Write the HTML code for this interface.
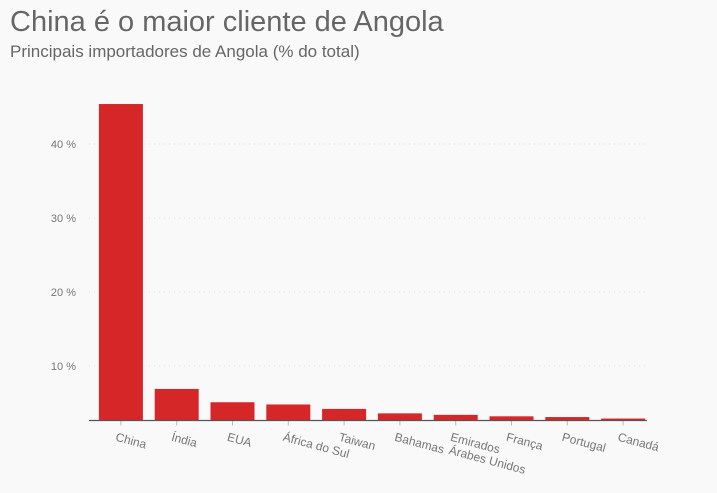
<!DOCTYPE html>
<html><head><meta charset="utf-8"><style>
body{margin:0;background:#f9f9f9;font-family:"Liberation Sans",sans-serif;}
#t{position:absolute;left:10px;top:6px;font-size:29px;color:#666;}
#s{position:absolute;left:10px;top:42px;font-size:17px;color:#666;}
</style></head><body>
<div id="t">China é o maior cliente de Angola</div>
<div id="s">Principais importadores de Angola (% do total)</div>
<svg id="c" width="717" height="493" style="position:absolute;left:0;top:0"></svg>
<script>
const categories=["China","Índia","EUA","África do Sul","Taiwan","Bahamas","Emirados Árabes Unidos","França","Portugal","Canadá"];
const values=[45.4,6.9,5.1,4.8,4.2,3.6,3.4,3.2,3.1,2.9];
const ticks=[10,20,30,40];
const tickLabels=["10 %","20 %","30 %","40 %"];
const svg=document.getElementById('c'),NS="http://www.w3.org/2000/svg";
const y=v=>440-v*7.4, base=420.5;
const x0=89,x1=647,step=(x1-x0)/categories.length;
const xc=i=>x0+step*(i+0.5)+4;
function mk(t,a){const e=document.createElementNS(NS,t);for(const k in a)e.setAttribute(k,a[k]);svg.appendChild(e);return e;}
ticks.forEach((t,i)=>{
 const g=mk('line',{x1:x0,x2:x1,y1:y(t),y2:y(t),stroke:'#ddd','stroke-dasharray':'1 4'});
 
 
 const l=mk('text',{x:76,y:y(t)+4,'text-anchor':'end','font-size':11,fill:'#777'});
 l.textContent=tickLabels[i];
 
 
});
categories.forEach((c,i)=>{
 const b=mk('rect',{x:xc(i)-22,width:44,y:y(values[i]),height:base-y(values[i]),fill:'#d52628'});
 
 
 const tk=mk('line',{x1:xc(i),x2:xc(i),y1:base,y2:base+5,stroke:'#bbb'});
 
 
 const tx=xc(i)-6,ty=base+20;
 const l=mk('text',{x:tx,y:ty,'font-size':12,fill:'#777',transform:`rotate(15 ${tx} ${ty})`});
 if(c==="Emirados Árabes Unidos"){
  l.innerHTML='<tspan x="'+tx+'">Emirados</tspan><tspan x="'+(tx+2)+'" dy="13">Árabes Unidos</tspan>';
 } else if(c==="África do Sul"){
  l.innerHTML='<tspan x="'+tx+'">África</tspan><tspan dx="0"> do Sul</tspan>';
 } else l.textContent=c;
 
 
});
const ax=mk('line',{x1:x0,x2:x1,y1:base,y2:base,stroke:'#555','stroke-width':1.3});


</script>
</body></html>
